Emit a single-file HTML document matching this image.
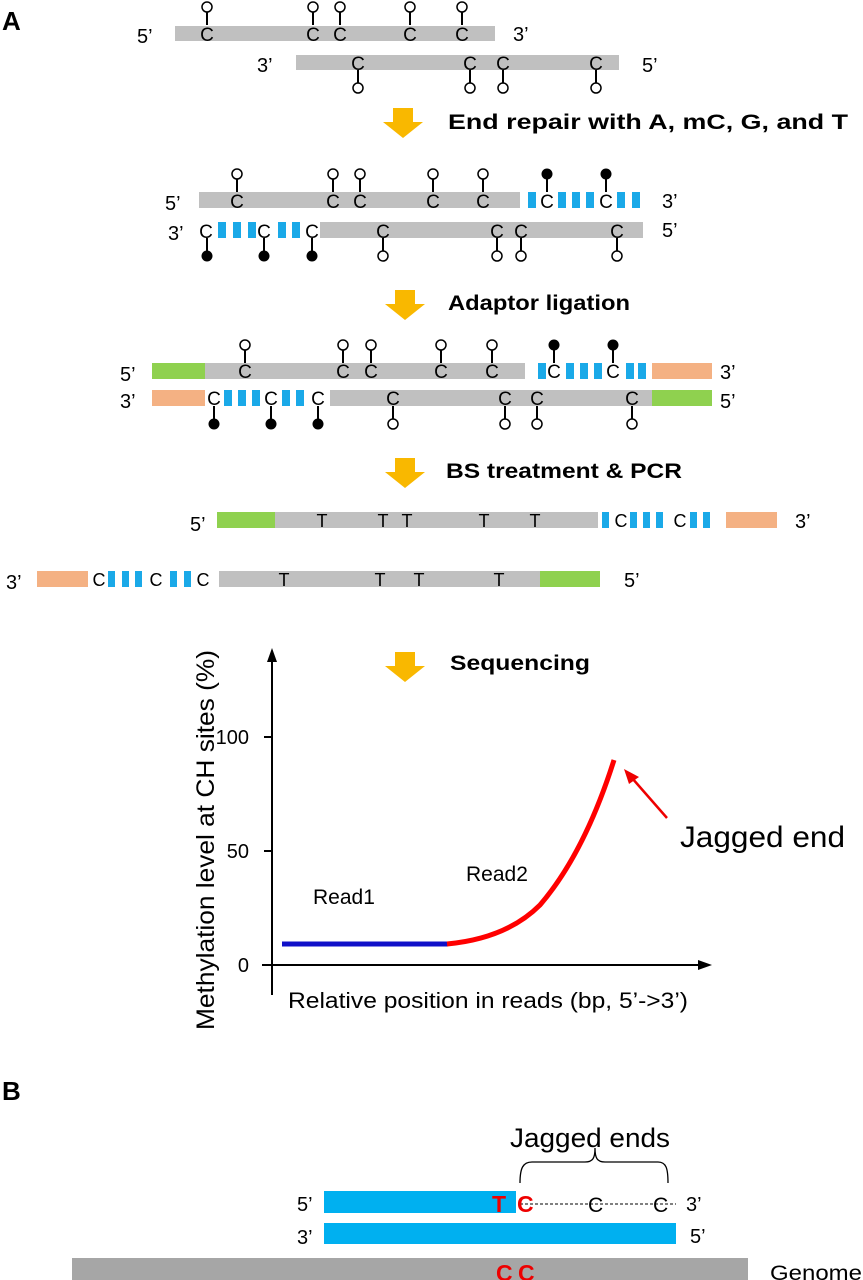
<!DOCTYPE html>
<html><head><meta charset="utf-8"><style>
html,body{margin:0;padding:0;background:#fff}
svg{display:block}
text{font-family:"Liberation Sans",Arial,sans-serif}
</style></head><body>
<svg width="863" height="1280" viewBox="0 0 863 1280" xmlns="http://www.w3.org/2000/svg">
<defs>
<g id="uo"><line x1="0" y1="-8" x2="0" y2="-21" stroke="#000" stroke-width="2"/><circle cx="0" cy="-26" r="5" fill="#fff" stroke="#000" stroke-width="1.5"/></g>
<g id="uf"><line x1="0" y1="-8" x2="0" y2="-21" stroke="#000" stroke-width="2"/><circle cx="0" cy="-26" r="5.5" fill="#000"/></g>
<g id="do"><line x1="0" y1="8" x2="0" y2="21" stroke="#000" stroke-width="2"/><circle cx="0" cy="26" r="5" fill="#fff" stroke="#000" stroke-width="1.5"/></g>
<g id="df"><line x1="0" y1="8" x2="0" y2="21" stroke="#000" stroke-width="2"/><circle cx="0" cy="26" r="5.5" fill="#000"/></g>
<polygon id="arr" points="-10,0 10,0 10,14 20,14 0,30 -20,14 -10,14" fill="#f9b800"/>
</defs>
<g font-size="20" fill="#000">
<text x="2" y="30" font-size="26" font-weight="bold">A</text>
<!-- Row1 -->
<rect x="175" y="26" width="320" height="15" fill="#c0c0c0"/>
<text x="137" y="43">5’</text><text x="513" y="41">3’</text>
<g font-size="19" text-anchor="middle">
<text x="207" y="41">C</text><text x="313" y="41">C</text><text x="340" y="41">C</text><text x="410" y="41">C</text><text x="462" y="41">C</text>
</g>
<use href="#uo" x="207" y="33"/><use href="#uo" x="313" y="33"/><use href="#uo" x="340" y="33"/><use href="#uo" x="410" y="33"/><use href="#uo" x="462" y="33"/>
<rect x="296" y="55" width="323" height="15" fill="#c0c0c0"/>
<text x="257" y="72">3’</text><text x="642" y="72">5’</text>
<use href="#do" x="358" y="62"/><use href="#do" x="470" y="62"/><use href="#do" x="503" y="62"/><use href="#do" x="596" y="62"/>
<g font-size="19" text-anchor="middle"><text x="358" y="70">C</text><text x="470" y="70">C</text><text x="503" y="70">C</text><text x="596" y="70">C</text></g>
<use href="#arr" x="403" y="108"/>
<text x="448" y="129" font-weight="bold" font-size="21" textLength="400" lengthAdjust="spacingAndGlyphs">End repair with A, mC, G, and T</text>
<!-- Row3 -->
<rect x="199" y="192" width="321" height="16" fill="#c0c0c0"/>
<g fill="#1aa9e8"><rect x="528" y="192" width="8" height="16"/><rect x="558" y="192" width="8" height="16"/><rect x="572" y="192" width="8" height="16"/><rect x="586" y="192" width="8" height="16"/><rect x="617" y="192" width="8" height="16"/><rect x="632" y="192" width="8" height="16"/></g>
<text x="165" y="210">5’</text><text x="662" y="208">3’</text>
<g font-size="19" text-anchor="middle"><text x="237" y="208">C</text><text x="333" y="208">C</text><text x="360" y="208">C</text><text x="433" y="208">C</text><text x="483" y="208">C</text><text x="547" y="208">C</text><text x="606" y="208">C</text></g>
<use href="#uo" x="237" y="200"/><use href="#uo" x="333" y="200"/><use href="#uo" x="360" y="200"/><use href="#uo" x="433" y="200"/><use href="#uo" x="483" y="200"/><use href="#uf" x="547" y="200"/><use href="#uf" x="606" y="200"/>
<rect x="320" y="222" width="323" height="16" fill="#c0c0c0"/>
<g fill="#1aa9e8"><rect x="218" y="222" width="8" height="16"/><rect x="233" y="222" width="8" height="16"/><rect x="248" y="222" width="8" height="16"/><rect x="278" y="222" width="8" height="16"/><rect x="292" y="222" width="8" height="16"/></g>
<text x="168" y="240">3’</text><text x="662" y="237">5’</text>
<g font-size="19" text-anchor="middle"><text x="206" y="238">C</text><text x="264" y="238">C</text><text x="312" y="238">C</text><text x="383" y="238">C</text><text x="497" y="238">C</text><text x="521" y="238">C</text><text x="617" y="238">C</text></g>
<use href="#df" x="207" y="230"/><use href="#df" x="264" y="230"/><use href="#df" x="312" y="230"/><use href="#do" x="383" y="230"/><use href="#do" x="497" y="230"/><use href="#do" x="521" y="230"/><use href="#do" x="617" y="230"/>
<use href="#arr" x="405" y="290"/>
<text x="448" y="310" font-weight="bold" font-size="21" textLength="182" lengthAdjust="spacingAndGlyphs">Adaptor ligation</text>
<!-- Row5 -->
<rect x="152" y="363" width="53" height="16" fill="#8fd14f"/>
<rect x="205" y="363" width="320" height="16" fill="#c0c0c0"/>
<g fill="#1aa9e8"><rect x="538" y="363" width="8" height="16"/><rect x="566" y="363" width="8" height="16"/><rect x="580" y="363" width="8" height="16"/><rect x="594" y="363" width="8" height="16"/><rect x="626" y="363" width="8" height="16"/><rect x="638" y="363" width="8" height="16"/></g>
<rect x="652" y="363" width="60" height="16" fill="#f4b183"/>
<text x="120" y="381">5’</text><text x="720" y="379">3’</text>
<g font-size="19" text-anchor="middle"><text x="245" y="378">C</text><text x="343" y="378">C</text><text x="371" y="378">C</text><text x="441" y="378">C</text><text x="492" y="378">C</text><text x="554" y="378">C</text><text x="613" y="378">C</text></g>
<use href="#uo" x="245" y="371"/><use href="#uo" x="343" y="371"/><use href="#uo" x="371" y="371"/><use href="#uo" x="441" y="371"/><use href="#uo" x="492" y="371"/><use href="#uf" x="554" y="371"/><use href="#uf" x="613" y="371"/>
<rect x="152" y="390" width="53" height="16" fill="#f4b183"/>
<g fill="#1aa9e8"><rect x="224" y="390" width="8" height="16"/><rect x="238" y="390" width="8" height="16"/><rect x="252" y="390" width="8" height="16"/><rect x="282" y="390" width="8" height="16"/><rect x="296" y="390" width="8" height="16"/></g>
<rect x="330" y="390" width="322" height="16" fill="#c0c0c0"/>
<rect x="652" y="390" width="60" height="16" fill="#8fd14f"/>
<text x="120" y="408">3’</text><text x="720" y="408">5’</text>
<g font-size="19" text-anchor="middle"><text x="214" y="405">C</text><text x="271" y="405">C</text><text x="318" y="405">C</text><text x="393" y="405">C</text><text x="505" y="405">C</text><text x="537" y="405">C</text><text x="632" y="405">C</text></g>
<use href="#df" x="214" y="398"/><use href="#df" x="271" y="398"/><use href="#df" x="318" y="398"/><use href="#do" x="393" y="398"/><use href="#do" x="505" y="398"/><use href="#do" x="537" y="398"/><use href="#do" x="632" y="398"/>
<use href="#arr" x="405" y="458"/>
<text x="446" y="478" font-weight="bold" font-size="21" textLength="236" lengthAdjust="spacingAndGlyphs">BS treatment &amp; PCR</text>
<!-- Row7 -->
<rect x="217" y="512" width="58" height="16" fill="#8fd14f"/>
<rect x="275" y="512" width="323" height="16" fill="#c0c0c0"/>
<g fill="#1aa9e8"><rect x="602" y="512" width="7" height="16"/><rect x="630" y="512" width="7" height="16"/><rect x="643" y="512" width="7" height="16"/><rect x="656" y="512" width="7" height="16"/><rect x="690" y="512" width="7" height="16"/><rect x="703" y="512" width="7" height="16"/></g>
<rect x="726" y="512" width="51" height="16" fill="#f4b183"/>
<text x="190" y="531">5’</text><text x="795" y="528">3’</text>
<g font-size="18" text-anchor="middle"><text x="322" y="527">T</text><text x="383" y="527">T</text><text x="407" y="527">T</text><text x="484" y="527">T</text><text x="535" y="527">T</text><text x="621" y="527">C</text><text x="680" y="527">C</text></g>
<!-- Row8 -->
<rect x="37" y="571" width="51" height="16" fill="#f4b183"/>
<g fill="#1aa9e8"><rect x="108" y="571" width="7" height="16"/><rect x="122" y="571" width="7" height="16"/><rect x="135" y="571" width="7" height="16"/><rect x="170" y="571" width="7" height="16"/><rect x="184" y="571" width="7" height="16"/></g>
<rect x="219" y="571" width="321" height="16" fill="#c0c0c0"/>
<rect x="540" y="571" width="60" height="16" fill="#8fd14f"/>
<text x="6" y="589">3’</text><text x="624" y="587">5’</text>
<g font-size="18" text-anchor="middle"><text x="99" y="586">C</text><text x="156" y="586">C</text><text x="203" y="586">C</text><text x="284" y="586">T</text><text x="380" y="586">T</text><text x="419" y="586">T</text><text x="499" y="586">T</text></g>
<use href="#arr" x="405" y="652"/>
<text x="450" y="670" font-weight="bold" font-size="21" textLength="140" lengthAdjust="spacingAndGlyphs">Sequencing</text>
<!-- Chart -->
<line x1="272" y1="995" x2="272" y2="660" stroke="#000" stroke-width="2"/>
<polygon points="272,648 267,662 277,662" fill="#000"/>
<line x1="262" y1="965" x2="700" y2="965" stroke="#000" stroke-width="2"/>
<polygon points="712,965 698,960 698,970" fill="#000"/>
<line x1="264" y1="737" x2="272" y2="737" stroke="#000" stroke-width="2"/>
<line x1="264" y1="851" x2="272" y2="851" stroke="#000" stroke-width="2"/>
<g text-anchor="end" font-size="20"><text x="249" y="744">100</text><text x="249" y="858">50</text><text x="249" y="972">0</text></g>
<line x1="282" y1="944" x2="448" y2="944" stroke="#1010c8" stroke-width="5"/>
<path d="M447,944 C490,940 520,925 540,905 C570,870 595,820 614,760" fill="none" stroke="#f00" stroke-width="5"/>
<line x1="667" y1="818" x2="632" y2="778" stroke="#e00" stroke-width="2.5"/>
<polygon points="624,769 639,777 629,784" fill="#e00"/>
<text x="680" y="847" font-size="30" textLength="165" lengthAdjust="spacingAndGlyphs">Jagged end</text>
<text x="313" y="904" font-size="21">Read1</text>
<text x="466" y="881" font-size="21">Read2</text>
<text transform="translate(214,840) rotate(-90)" text-anchor="middle" font-size="25" textLength="380" lengthAdjust="spacingAndGlyphs">Methylation level at CH sites (%)</text>
<text x="288" y="1008" font-size="22" textLength="400" lengthAdjust="spacingAndGlyphs">Relative position in reads (bp, 5’-&gt;3’)</text>
<!-- B -->
<text x="2" y="1100" font-size="26" font-weight="bold">B</text>
<text x="510" y="1147" font-size="27" textLength="160" lengthAdjust="spacingAndGlyphs">Jagged ends</text>
<path d="M520,1183 C520,1168 523,1162 532,1162 L585,1162 C593,1162 595,1158 595,1148 C595,1158 597,1162 605,1162 L658,1162 C666,1162 668,1168 668,1183" fill="none" stroke="#000" stroke-width="1.3"/>
<rect x="324" y="1191" width="192" height="22" fill="#00b0f0"/>
<rect x="324" y="1223" width="352" height="21" fill="#00b0f0"/>
<line x1="520" y1="1204" x2="676" y2="1204" stroke="#000" stroke-width="1" stroke-dasharray="3,2"/>
<text x="297" y="1211">5’</text><text x="686" y="1211">3’</text>
<text x="297" y="1244">3’</text><text x="690" y="1243">5’</text>
<text x="492" y="1212" font-size="23" font-weight="bold" fill="#e00">T</text>
<text x="517" y="1212" font-size="23" font-weight="bold" fill="#e00">C</text>
<text x="588" y="1212" font-size="21">C</text><text x="653" y="1212" font-size="21">C</text>
<rect x="72" y="1258" width="676" height="22" fill="#a6a6a6"/>
<text x="496" y="1281" font-size="23" font-weight="bold" fill="#e00">C</text>
<text x="518" y="1281" font-size="23" font-weight="bold" fill="#e00">C</text>
<text x="770" y="1280" font-size="21" textLength="92" lengthAdjust="spacingAndGlyphs">Genome</text>
</g>
</svg>
</body></html>
